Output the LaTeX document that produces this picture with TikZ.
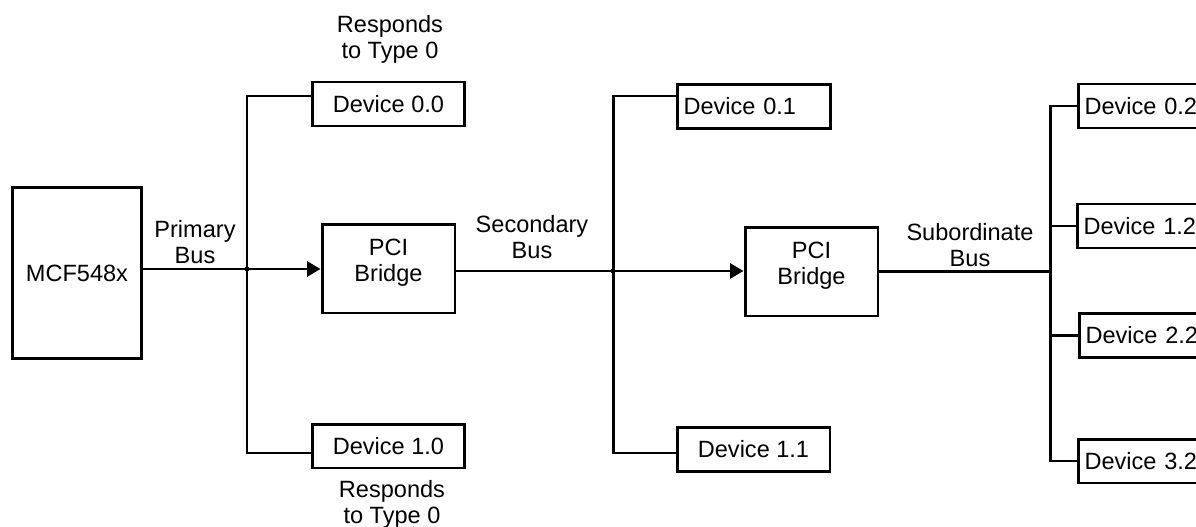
\documentclass[tikz,border=0pt]{standalone}
\usepackage{fontspec}
\setmainfont{Liberation Sans}
\usetikzlibrary{arrows.meta,positioning}
\tikzset{
  busfont/.style={font=\fontsize{13.4}{14.8}\selectfont},
  blockbox/.style={draw,line width=1.7pt,busfont,align=center,inner sep=0pt},
  devbox/.style={draw,line width=1.7pt,busfont,minimum width=3.06cm,minimum height=0.88cm,inner sep=0pt},
  leftdev/.style={devbox,inner xsep=0.12cm,text width=2.82cm,align=left},
  buslabel/.style={busfont,align=center,inner sep=0pt,anchor=north},
  busline/.style={line width=1.7pt},
  busarrow/.style={busline,-{Triangle[length=0.27cm,width=0.3cm]}}
}

\begin{document}
\begin{tikzpicture}[x=0.02cm,y=-0.02cm]
  \useasboundingbox (0,0) rectangle (1196,527);
  \clip (0,0) rectangle (1196,527);

  \node[blockbox,minimum width=2.6cm,minimum height=3.44cm] (mcf) at (77,273) {MCF548x};
  \node[blockbox,minimum width=2.66cm,minimum height=1.78cm,text depth=0.32cm] (br1) at (388.5,268.5) {PCI\\Bridge};
  \node[blockbox,minimum width=2.66cm,minimum height=1.78cm,text depth=0.32cm] (br2) at (811.5,271.5) {PCI\\Bridge};

  \node[devbox] (d00) at (388.5,104) {Device 0.0};
  \node[devbox] (d10) at (388.5,446) {Device 1.0};
  \node[leftdev] (d01) at (754,106.5) {Device 0.1};
  \node[devbox] (d11) at (753.5,449.5) {Device 1.1};
  \node[leftdev,anchor=west] (d02) at (1077,106) {Device 0.2};
  \node[leftdev,anchor=west] (d12) at (1076,226) {Device 1.2};
  \node[leftdev,anchor=west] (d22) at (1078,335.5) {Device 2.2};
  \node[leftdev,anchor=west] (d32) at (1077,461) {Device 3.2};

  \node[buslabel] (rtop) at (390,15) {Responds\\to Type 0};
  \node[buslabel] (rbot) at (392,480) {Responds\\to Type 0};
  \node[buslabel] (lprim) at (195,220) {Primary\\Bus};
  \node[buslabel] (lsec) at (532,215) {Secondary\\Bus};
  \node[buslabel] (lsub) at (970,223) {Subordinate\\Bus};

  \coordinate (bus1) at (247,269);
  \coordinate (bus2) at (613,271);
  \coordinate (bus3) at (1050,272);

  \draw[busarrow] (mcf.east |- bus1) -- (br1.west |- bus1);
  \draw[busline] ([yshift=0.16cm]d00.west) -| (bus1) |- ([yshift=-0.14cm]d10.west);
  \fill (bus1) circle[radius=0.05cm];

  \draw[busarrow] (br1.east |- bus2) -- (br2.west |- bus2);
  \draw[busline] ([yshift=0.21cm]d01.west) -| (bus2) |- ([yshift=-0.07cm]d11.west);
  \fill (bus2) circle[radius=0.05cm];

  \draw[busline] (br2.east) -- (br2.east -| bus3);
  \draw[busline] (d02.west) -| (bus3) |- (d32.west);
  \draw[busline] (bus3 |- d12.west) -- (d12.west);
  \draw[busline] (bus3 |- d22.west) -- (d22.west);
\end{tikzpicture}
\end{document}
